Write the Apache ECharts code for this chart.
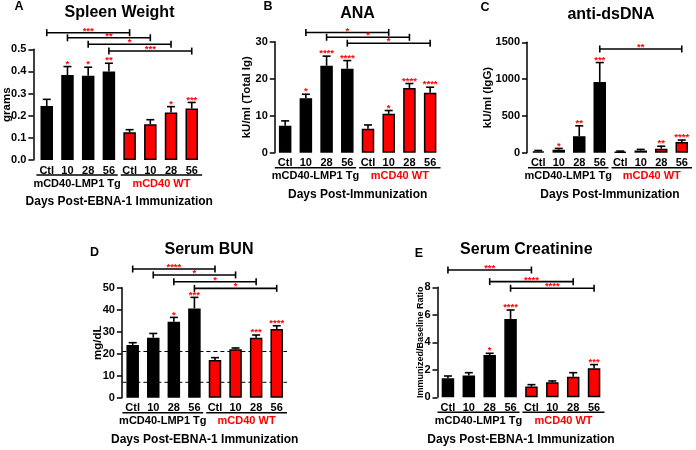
<!DOCTYPE html>
<html><head><meta charset="utf-8">
<script src="https://cdn.jsdelivr.net/npm/echarts@6/dist/echarts.min.js"></script>
<style>html,body{margin:0;padding:0;background:#fff}#c{width:696px;height:450px}</style>
</head><body><div id="c"></div>
<script>
// ---------- data ----------
const categories = ['Ctl', '10', '28', '56', 'Ctl', '10', '28', '56'];
const groupNames = ['mCD40-LMP1 Tg', 'mCD40 WT'];
const groupColors = ['#000000', '#ff0000'];
const xTitleEBNA = 'Days Post-EBNA-1 Immunization';
const xTitlePlain = 'Days Post-Immunization';

// A  Spleen Weight
const spleenMean  = [0.244, 0.384, 0.381, 0.400, 0.125, 0.161, 0.214, 0.233];
const spleenUpper = [0.274, 0.422, 0.419, 0.437, 0.137, 0.182, 0.241, 0.260];
const spleenStars = ['', '*', '*', '**', '', '', '*', '***'];
const spleenBrackets = [[0, 4, '***', 0.575], [1, 5, '**', 0.552], [2, 6, '*', 0.523], [3, 7, '***', 0.492]];
const spleenTicks = [0, 0.5, 0.1];

// B  ANA
const anaMean  = [7.3, 14.7, 23.5, 22.7, 6.5, 10.5, 17.5, 16.2];
const anaUpper = [8.6, 15.8, 26.1, 24.9, 7.5, 11.4, 18.7, 17.7];
const anaStars = ['', '*', '****', '****', '', '*', '****', '****'];
const anaBrackets = [[1, 5, '*', 32.5], [2, 6, '*', 31.2], [3, 7, '*', 29.6]];
const anaTicks = [0, 30, 10];

// C  anti-dsDNA
const dsMean  = [18, 40, 225, 962, 15, 30, 55, 145];
const dsUpper = [30, 58, 365, 1225, 22, 45, 88, 172];
const dsStars = ['', '*', '**', '***', '', '', '**', '****'];
const dsBrackets = [[3, 7, '**', 1409]];
const dsTicks = [0, 1500, 500];

// D  Serum BUN
const bunMean  = [23.9, 27.3, 34.5, 40.6, 17.1, 22.0, 27.2, 31.2];
const bunUpper = [25.0, 29.2, 36.5, 45.6, 18.2, 22.6, 28.5, 32.7];
const bunStars = ['', '', '*', '***', '', '', '***', '****'];
const bunBrackets = [[0, 4, '****', 58.5], [1, 5, '*', 55.8], [2, 6, '*', 52.7], [3, 7, '*', 49.7]];
const bunRefLines = [21, 7];
const bunTicks = [0, 50, 10];

// E  Serum Creatinine
const creMean  = [1.38, 1.58, 3.08, 5.70, 0.78, 1.09, 1.50, 2.11];
const creUpper = [1.55, 1.79, 3.20, 6.35, 0.92, 1.19, 1.79, 2.38];
const creStars = ['', '', '*', '****', '', '', '', '***'];
const creBrackets = [[0, 4, '***', 9.26], [2, 6, '****', 8.41], [3, 7, '****', 7.93]];
const creTicks = [0, 8, 2];

// ---------- layout / style ----------
const FONT = '"Liberation Sans", Arial, Helvetica, sans-serif';
const panels = [
  {letter: 'A', title: 'Spleen Weight', yName: 'grams', xName: xTitleEBNA, mean: spleenMean, upper: spleenUpper, stars: spleenStars, brackets: spleenBrackets, ticks: spleenTicks, dec: 1, refs: [],
   grid: {left: 36.4, top: 49.3, width: 165.7, height: 110.7}, yOff: 3, yGap: 21, yNameSize: 11.5, titlePos: [119.5, 12.5], letterPos: [19, 6.5]},
  {letter: 'B', title: 'ANA', yName: 'kU/ml (Total Ig)', xName: xTitlePlain, mean: anaMean, upper: anaUpper, stars: anaStars, brackets: anaBrackets, ticks: anaTicks, dec: 0, refs: [],
   grid: {left: 274.8, top: 41.7, width: 165.7, height: 111}, yOff: 0, yGap: 22, yNameSize: 11.5, titlePos: [357.5, 13.3], letterPos: [268, 7]},
  {letter: 'C', title: 'anti-dsDNA', yName: 'kU/ml (IgG)', xName: xTitlePlain, mean: dsMean, upper: dsUpper, stars: dsStars, brackets: dsBrackets, ticks: dsTicks, dec: 0, refs: [],
   grid: {left: 528, top: 42.3, width: 164, height: 110.4}, yOff: 1, yGap: 33, yNameSize: 11.5, titlePos: [611, 15], letterPos: [485, 8]},
  {letter: 'D', title: 'Serum BUN', yName: 'mg/dL', xName: xTitleEBNA, mean: bunMean, upper: bunUpper, stars: bunStars, brackets: bunBrackets, ticks: bunTicks, dec: 0, refs: bunRefLines,
   grid: {left: 122.4, top: 287.7, width: 164.6, height: 110}, yOff: 0.5, yGap: 18.5, yNameSize: 11.5, titlePos: [209, 250], letterPos: [94.5, 253]},
  {letter: 'E', title: 'Serum Creatinine', yName: 'Immunized/Baseline Ratio', xName: xTitleEBNA, mean: creMean, upper: creUpper, stars: creStars, brackets: creBrackets, ticks: creTicks, dec: 0, refs: [],
   grid: {left: 437.5, top: 287.3, width: 167, height: 110}, yOff: 0, yGap: 12.5, yNameSize: 9, titlePos: [526.3, 250], letterPos: [419, 253.3]}
];

const grids = [], xAxes = [], yAxes = [], series = [], graphics = [];
const boldText = (size, color) => ({fontFamily: FONT, fontWeight: 'bold', fontSize: size, color: color || '#000'});

panels.forEach((p, gi) => {
  grids.push(Object.assign({outerBoundsMode: 'none', containLabel: false}, p.grid));
  xAxes.push({
    gridIndex: gi, type: 'category', data: categories,
    axisLine: {show: false}, axisTick: {show: false}, splitLine: {show: false},
    axisLabel: Object.assign({margin: 5, interval: 0}, boldText(11)),
    name: p.xName, nameLocation: 'middle', nameGap: 36, nameMoveOverlap: false, nameTextStyle: boldText(12)
  });
  yAxes.push({
    gridIndex: gi, type: 'value', min: p.ticks[0], max: p.ticks[1], interval: p.ticks[2], offset: p.yOff,
    axisLine: {show: true, lineStyle: {color: '#000', width: 1.5}},
    axisTick: {show: true, length: 5, lineStyle: {color: '#000', width: 1.5}},
    splitLine: {show: false},
    axisLabel: Object.assign({margin: 7, formatter: v => v.toFixed(p.dec)}, boldText(11)),
    name: p.yName, nameLocation: 'middle', nameRotate: 90, nameGap: p.yGap, nameMoveOverlap: false, nameTextStyle: boldText(p.yNameSize)
  });
  // reference dashed lines (behind bars)
  if (p.refs.length) {
    series.push({
      type: 'custom', xAxisIndex: gi, yAxisIndex: gi, z: 1, silent: true,
      data: p.refs.map(v => [0, v]), encode: {x: 0, y: 1},
      renderItem: (params, api) => {
        const cs = params.coordSys;
        const y = api.coord([0, api.value(1)])[1];
        return {type: 'line', shape: {x1: cs.x, y1: y, x2: cs.x + cs.width, y2: y},
          style: {stroke: '#000', lineWidth: 1, lineDash: [4, 3]}};
      }
    });
  }
  // bars
  series.push({
    type: 'bar', xAxisIndex: gi, yAxisIndex: gi, z: 2, barWidth: 12.5, silent: true,
    data: p.mean.map((v, i) => ({value: v, itemStyle: {color: groupColors[i < 4 ? 0 : 1], borderColor: '#000', borderWidth: 1.5}}))
  });
  // error bars + stars
  series.push({
    type: 'custom', xAxisIndex: gi, yAxisIndex: gi, z: 3, clip: false, silent: true,
    data: p.mean.map((m, i) => [i, m, p.upper[i]]), encode: {x: 0, y: [1, 2]},
    renderItem: (params, api) => {
      const i = api.value(0);
      const b = api.coord([i, api.value(1)]);
      const t = api.coord([i, api.value(2)]);
      const st = {stroke: '#000', lineWidth: 1.6};
      return {type: 'group', children: [
        {type: 'line', shape: {x1: b[0], y1: b[1], x2: t[0], y2: t[1]}, style: st},
        {type: 'line', shape: {x1: t[0] - 4, y1: t[1], x2: t[0] + 4, y2: t[1]}, style: st},
        {type: 'text', style: {text: p.stars[params.dataIndex], x: t[0], y: t[1] - 2.5, align: 'center', verticalAlign: 'middle',
          fill: '#ff0000', fontFamily: FONT, fontWeight: 'bold', fontSize: 9.5}}
      ]};
    }
  });
  // significance brackets
  series.push({
    type: 'custom', xAxisIndex: gi, yAxisIndex: gi, z: 3, clip: false, silent: true,
    data: p.brackets.map(b => [b[0], b[3], b[1]]), encode: {x: [0, 2], y: 1},
    renderItem: (params, api) => {
      const l = api.coord([api.value(0), api.value(1)]);
      const r = api.coord([api.value(2), api.value(1)]);
      const st = {stroke: '#000', lineWidth: 1.6};
      return {type: 'group', children: [
        {type: 'line', shape: {x1: l[0], y1: l[1], x2: r[0], y2: r[1]}, style: st},
        {type: 'line', shape: {x1: l[0], y1: l[1] - 3.5, x2: l[0], y2: l[1] + 3.5}, style: st},
        {type: 'line', shape: {x1: r[0], y1: r[1] - 3.5, x2: r[0], y2: r[1] + 3.5}, style: st},
        {type: 'text', style: {text: p.brackets[params.dataIndex][2], x: (l[0] + r[0]) / 2, y: l[1] - 1.5, align: 'center', verticalAlign: 'middle',
          fill: '#ff0000', fontFamily: FONT, fontWeight: 'bold', fontSize: 9.5}}
      ]};
    }
  });
  // group underlines and group labels
  series.push({
    type: 'custom', xAxisIndex: gi, yAxisIndex: gi, z: 3, clip: false, silent: true,
    data: groupNames.map((g, k) => [k * 4, 0, k * 4 + 3]), encode: {x: [0, 2], y: 1},
    renderItem: (params, api) => {
      const k = params.dataIndex;
      const band = api.size([1, 0])[0];
      const a = api.coord([api.value(0), 0]);
      const c = api.coord([api.value(2), 0]);
      const x1 = a[0] - band / 2 + (k === 0 ? 0 : 1.5);
      const x2 = c[0] + band / 2 - (k === 0 ? 1.5 : 0);
      return {type: 'group', children: [
        {type: 'line', shape: {x1: x1, y1: a[1] + 15, x2: x2, y2: a[1] + 15}, style: {stroke: '#000', lineWidth: 1.5}},
        {type: 'text', style: {text: groupNames[k], x: (x1 + x2) / 2, y: a[1] + 23.5, align: 'center', verticalAlign: 'middle',
          fill: groupColors[k], fontFamily: FONT, fontWeight: 'bold', fontSize: 11}}
      ]};
    }
  });
  graphics.push({type: 'text', x: p.titlePos[0], y: p.titlePos[1], style: {text: p.title, align: 'center', verticalAlign: 'middle',
    fill: '#000', fontFamily: FONT, fontWeight: 'bold', fontSize: 16}});
  graphics.push({type: 'text', x: p.letterPos[0], y: p.letterPos[1], style: {text: p.letter, align: 'center', verticalAlign: 'middle',
    fill: '#000', fontFamily: FONT, fontWeight: 'bold', fontSize: 12.5}});
});

const chart = echarts.init(document.getElementById('c'), null, {renderer: 'canvas'});
chart.setOption({
  animation: false,
  backgroundColor: '#ffffff',
  grid: grids, xAxis: xAxes, yAxis: yAxes, series: series, graphic: graphics
});
</script>
</body></html>
